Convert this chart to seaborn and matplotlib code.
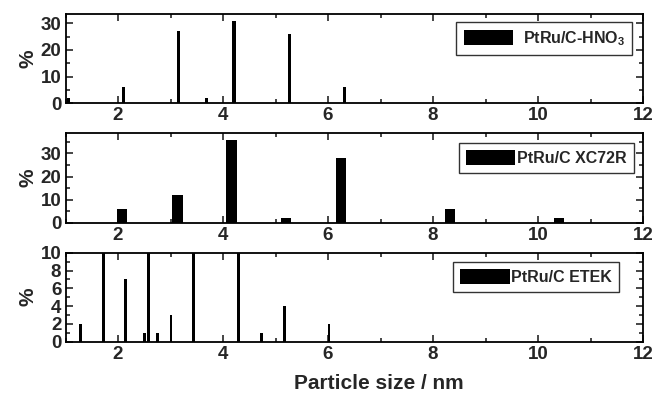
import numpy as np
import pandas as pd
import matplotlib
matplotlib.use("Agg")
import matplotlib.pyplot as plt
import seaborn as sns
from matplotlib.ticker import MultipleLocator

# --- data ---
size_hno3 = [1.05, 2.10, 3.16, 3.68, 4.21, 5.26, 6.31]
pct_hno3 = [2, 6, 27, 2, 31, 26, 6]

size_xc72 = [2.08, 3.13, 4.16, 5.20, 6.25, 8.32, 10.40]
pct_xc72 = [6, 12, 36, 2, 28, 6, 2]

size_etek = [1.29, 1.72, 2.15, 2.50, 2.58, 2.75, 3.01, 3.43, 4.30, 4.74, 5.17, 6.02]
pct_etek = [2, 14, 7, 1, 18, 1, 3, 16, 20, 1, 4, 2]

labels = ["PtRu/C-HNO$_\\mathregular{3}$", "PtRu/C XC72R", "PtRu/C ETEK"]
x_ticks = [2, 4, 6, 8, 10, 12]

sns.set_theme(style="ticks")
plt.rcParams['font.family'] = ['Liberation Sans', 'DejaVu Sans']
plt.rcParams['font.weight'] = 'bold'
plt.rcParams['mathtext.default'] = 'regular'

fig = plt.figure(figsize=(6.57, 3.93), dpi=100)
L, R = 65.5 / 657, 643 / 657
W = R - L
def pos(top_px, bot_px):
    return [L, 1 - bot_px / 393, W, (bot_px - top_px) / 393]

axes = [fig.add_axes(pos(14, 103.3)),
        fig.add_axes(pos(132.7, 222.7)),
        fig.add_axes(pos(252.7, 341.7))]

datasets = [(size_hno3, pct_hno3, 0.06, (0, 33.5), 10, 5),
            (size_xc72, pct_xc72, 0.20, (0, 39), 10, 5),
            (size_etek, pct_etek, 0.055, (0, 10), 2, 1)]
# legend styling per panel: (anchor x, anchor y, handletextpad)
leg_styles = [(0.981, 0.91, 0.6), (0.984, 0.889, 0.1), (0.959, 0.90, 0.1)]

for ax, (xs, ys, bw, ylim, ymaj, ymin), lab, (lx, ly, htp) in zip(axes, datasets, labels, leg_styles):
    df = pd.DataFrame({"size": xs, "pct": ys})
    spacing = np.min(np.diff(np.sort(np.unique(xs))))
    sns.barplot(data=df, x="size", y="pct", native_scale=True, color="black",
                width=bw / spacing, edgecolor="black", linewidth=0,
                saturation=1, ax=ax, label=lab)
    ax.set_xlim(1, 12)
    ax.set_ylim(*ylim)
    ax.xaxis.set_major_locator(MultipleLocator(2))
    ax.xaxis.set_minor_locator(MultipleLocator(1))
    ax.yaxis.set_major_locator(MultipleLocator(ymaj))
    ax.yaxis.set_minor_locator(MultipleLocator(ymin))
    ax.set_xticks(x_ticks)
    ax.set_xticklabels([str(t) for t in x_ticks])
    ax.tick_params(which="both", direction="in", top=True, right=True,
                   labelsize=13.5, width=1.2, pad=3)
    ax.tick_params(which="major", length=5)
    ax.tick_params(which="minor", length=3)
    for lbl in ax.get_xticklabels() + ax.get_yticklabels():
        lbl.set_fontweight("bold")
    for sp in ax.spines.values():
        sp.set_linewidth(1.3)
        sp.set_color("black")
    ax.set_xlabel("")
    ax.set_ylabel("%", fontsize=15, fontweight="bold", labelpad=2)
    leg = ax.legend(loc="upper right", fontsize=11.5, frameon=True, fancybox=False,
                    edgecolor="black", handlelength=3.1, handleheight=1.1,
                    handletextpad=htp, borderpad=0.45, borderaxespad=0,
                    bbox_to_anchor=(lx, ly))
    leg.get_frame().set_linewidth(1.0)
    for t in leg.get_texts():
        t.set_fontweight("bold")

axes[2].set_xlabel("Particle size / nm", fontsize=15, fontweight="bold")
axes[2].xaxis.set_label_coords((379 - 65.5) / 577.5, -0.36)

fig.savefig("out.png", dpi=100)
